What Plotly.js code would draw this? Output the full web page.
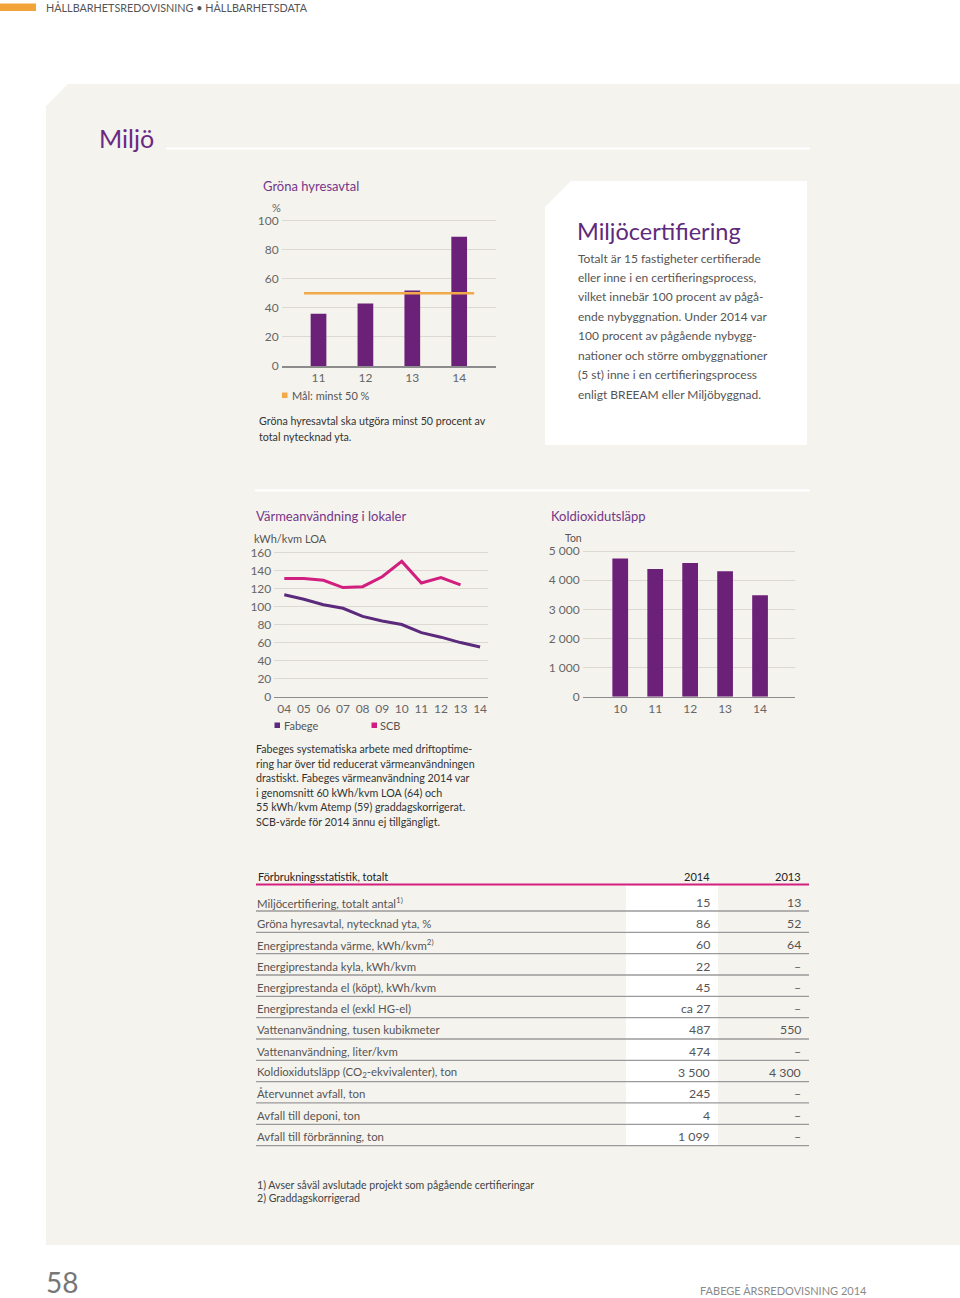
<!DOCTYPE html>
<html>
<head>
<meta charset="utf-8">
<script src="https://cdn.plot.ly/plotly-3.0.1.min.js"></script>
<style>
html,body{margin:0;padding:0;background:#ffffff;}
#page{width:960px;height:1298px;}
</style>
</head>
<body>
<div id="page"></div>
<script>
// ---------- DATA ----------
const greenYears = ['11','12','13','14'];
const greenShare = [36, 43, 52, 89];
const greenGoal = 50;
const greenTicks = [0,20,40,60,80,100];

const heatYears = ['04','05','06','07','08','09','10','11','12','13','14'];
const heatFabege = [113, 108, 102, 98, 89, 84, 80, 71, 66, 60, 55];
const heatSCB = [131, 131, 129, 121, 122, 133, 150, 126, 132, 124, null];
const heatTicks = [0,20,40,60,80,100,120,140,160];

const co2Years = ['10','11','12','13','14'];
const co2Tons = [4740, 4380, 4590, 4310, 3480];
const co2Ticks = [0,1000,2000,3000,4000,5000];
const co2TickText = ['0','1 000','2 000','3 000','4 000','5 000'];

const tableTitle = 'Förbrukningsstatistik, totalt';
const tableCols = ['2014','2013'];
const tableLabels = [
  'Miljöcertifiering, totalt antal<sup>1)</sup>',
  'Gröna hyresavtal, nytecknad yta, %',
  'Energiprestanda värme, kWh/kvm<sup>2)</sup>',
  'Energiprestanda kyla, kWh/kvm',
  'Energiprestanda el (köpt), kWh/kvm',
  'Energiprestanda el (exkl HG-el)',
  'Vattenanvändning, tusen kubikmeter',
  'Vattenanvändning, liter/kvm',
  'Koldioxidutsläpp (CO<sub>2</sub>-ekvivalenter), ton',
  'Återvunnet avfall, ton',
  'Avfall till deponi, ton',
  'Avfall till förbränning, ton'
];
const table2014 = ['15','86','60','22','45','ca 27','487','474','3 500','245','4','1 099'];
const table2013 = ['13','52','64','–','–','–','550','–','4 300','–','–','–'];

// ---------- HELPERS ----------
const W = 960, H = 1298;
const X = p => p / W;
const Y = p => 1 - p / H;
const FONT = 'Lato, "Open Sans", sans-serif';
const PURPLE_T = '#74368a';
const annotations = [];
const shapes = [];
function txt(text, x, y, size, color, anchor, fam) {
  const a = anchor || 'left';
  const dx = a === 'left' ? -2 : (a === 'right' ? 2 : 0);
  annotations.push({text: text, xref: 'paper', yref: 'paper', x: X(x + dx), y: Y(y),
    xanchor: a, yanchor: 'middle', showarrow: false,
    font: {family: fam || FONT, size: size, color: color}});
}
function rect(x0, y0, x1, y1, fill, layer) {
  shapes.push({type: 'rect', xref: 'paper', yref: 'paper', x0: X(x0), x1: X(x1), y0: Y(y1), y1: Y(y0),
    fillcolor: fill, line: {width: 0}, layer: layer || 'below'});
}
function hline(x0, x1, y, color, width, layer) {
  shapes.push({type: 'line', xref: 'paper', yref: 'paper', x0: X(x0), x1: X(x1), y0: Y(y), y1: Y(y),
    line: {color: color, width: width}, layer: layer || 'below'});
}
function poly(pts, fill) {
  let d = pts.map((p, i) => (i ? 'L' : 'M') + X(p[0]) + ',' + Y(p[1])).join(' ') + ' Z';
  shapes.push({type: 'path', xref: 'paper', yref: 'paper', path: d, fillcolor: fill, line: {width: 0}, layer: 'below'});
}

// ---------- PAGE DECOR ----------
poly([[46,106],[68,84],[960,84],[960,1245],[46,1245]], '#f5f3ee');
poly([[545,207],[571,181],[807,181],[807,445],[545,445]], '#ffffff');
hline(166, 810, 148.5, '#ffffff', 2);
hline(255, 810, 490.5, '#ffffff', 2);
rect(0, 3.5, 36, 11, '#f2a33a');

txt('HÅLLBARHETSREDOVISNING • HÅLLBARHETSDATA', 46, 7.5, 10.8, '#555555');
txt('Miljö', 99, 138, 25, '#6b2a82');

// Chart 1 texts
txt('Gröna hyresavtal', 263, 186, 13, PURPLE_T);
txt('%', 276, 207.5, 11, '#666666', 'center');
rect(282, 392.5, 287.5, 398, '#f2a94a');
txt('Mål: minst 50 %', 291.5, 395.5, 11, '#555555');
txt('Gröna hyresavtal ska utgöra minst 50 procent av', 259, 421, 10.7, '#333333');
txt('total nytecknad yta.', 259, 436, 10.7, '#333333');

// Miljöcertifiering box
txt('Miljöcertifiering', 577, 231, 23.5, '#5e2a7c');
const certLines = [
  'Totalt är 15 fastigheter certifierade',
  'eller inne i en certifieringsprocess,',
  'vilket innebär 100 procent av pågå-',
  'ende nybyggnation. Under 2014 var',
  '100 procent av pågående nybygg-',
  'nationer och större ombyggnationer',
  '(5 st) inne i en certifieringsprocess',
  'enligt BREEAM eller Miljöbyggnad.'
];
certLines.forEach((l, i) => txt(l, 578, 258 + i * 19.45, 12, '#555555'));

// Chart 2 texts
txt('Värmeanvändning i lokaler', 256, 516, 13, PURPLE_T);
txt('kWh/kvm LOA', 254, 538.5, 11, '#555555');
rect(274.5, 722.5, 280, 728, '#5b2a7c');
txt('Fabege', 283.5, 725.5, 11, '#555555');
rect(371.5, 722.5, 377, 728, '#d21f7f');
txt('SCB', 379.5, 725.5, 11, '#555555');
const heatCaption = [
  'Fabeges systematiska arbete med driftoptime-',
  'ring har över tid reducerat värmeanvändningen',
  'drastiskt. Fabeges värmeanvändning 2014 var',
  'i genomsnitt 60 kWh/kvm LOA (64) och',
  '55 kWh/kvm Atemp (59) graddagskorrigerat.',
  'SCB-värde för 2014 ännu ej tillgängligt.'
];
heatCaption.forEach((l, i) => txt(l, 256, 748.5 + i * 14.5, 10.7, '#333333'));

// Chart 3 texts
txt('Koldioxidutsläpp', 551, 516, 13, PURPLE_T);
txt('Ton', 573, 537.5, 10.5, '#555555', 'center');

// ---------- TABLE ----------
rect(626, 886, 718, 1146, '#ffffff');
txt(tableTitle, 258, 876.5, 10.8, '#222222');
txt(tableCols[0], 709.5, 876.5, 11, '#222222', 'right');
txt(tableCols[1], 801, 876.5, 11, '#222222', 'right');
hline(256, 809, 884.5, '#d4207f', 2, 'above');
tableLabels.forEach((lab, i) => {
  const yc = 902.3 + i * 21.27;
  txt(lab, 257, yc, 11.4, '#555555');
  txt(table2014[i], 709.5, yc, 12.3, '#555555', 'right');
  txt(table2013[i], 801, yc, 12.3, '#555555', 'right');
  hline(256, 809, 911 + i * 21.33, '#9a9a9a', 1.3, 'above');
});

// footnotes & folio
txt('1) Avser såväl avslutade projekt som pågående certifieringar', 257, 1184.5, 10.6, '#444444');
txt('2) Graddagskorrigerad', 257, 1197.5, 10.6, '#444444');
txt('58', 46, 1281.5, 28, '#777777');
txt('FABEGE ÅRSREDOVISNING 2014', 867, 1290.5, 11, '#8a8a8a', 'right');

// ---------- TRACES ----------
const traces = [
  {type: 'bar', x: greenYears, y: greenShare, xaxis: 'x', yaxis: 'y',
   marker: {color: '#6c2178'}, width: 0.335, hoverinfo: 'skip'},
  {type: 'scatter', mode: 'lines', x: heatYears, y: heatFabege, xaxis: 'x2', yaxis: 'y2',
   line: {color: '#5b2a7c', width: 3}, hoverinfo: 'skip'},
  {type: 'scatter', mode: 'lines', x: heatYears, y: heatSCB, xaxis: 'x2', yaxis: 'y2',
   line: {color: '#d21f7f', width: 3}, connectgaps: false, hoverinfo: 'skip'},
  {type: 'bar', x: co2Years, y: co2Tons, xaxis: 'x3', yaxis: 'y3',
   marker: {color: '#6c2178'}, width: 0.45, hoverinfo: 'skip'}
];

// goal line in chart 1
shapes.push({type: 'line', xref: 'x', yref: 'y', x0: -0.31, x1: 3.32, y0: greenGoal, y1: greenGoal,
  line: {color: '#f2a94a', width: 2.5}, layer: 'above'});

const tickFont = {family: FONT, size: 12, color: '#666666'};
const GRID = '#dcd9d2';
const AXL = '#8c8c8c';
function xAx(domPx, range, anchor) {
  return {domain: [X(domPx[0]), X(domPx[1])], range: range, type: 'category', anchor: anchor,
    showgrid: false, showline: true, linecolor: AXL, linewidth: 1.5, ticks: '', tickfont: tickFont,
    zeroline: false, fixedrange: true};
}
function yAx(pxBottom, pxPerUnit, max, tickvals, ticktext, anchor) {
  const top = pxBottom - max * pxPerUnit;
  return {domain: [Y(pxBottom), Y(top)], range: [0, max], anchor: anchor,
    tickvals: tickvals, ticktext: ticktext, showgrid: true, gridcolor: GRID, gridwidth: 1,
    showline: false, zeroline: false, ticks: '', tickfont: tickFont, ticklabelstandoff: 2, fixedrange: true};
}

const layout = {
  width: W, height: H, margin: {l: 0, r: 0, t: 0, b: 0},
  paper_bgcolor: '#ffffff', plot_bgcolor: 'rgba(0,0,0,0)', showlegend: false,
  font: {family: FONT},
  xaxis: xAx([281.7, 496], [-0.785, 3.785], 'y'),
  yaxis: yAx(366, 1.453, 101, greenTicks, greenTicks.map(String), 'x'),
  xaxis2: xAx([274.3, 488.3], [-0.51, 10.42], 'y2'),
  yaxis2: yAx(696.7, 0.902, 162, heatTicks, heatTicks.map(String), 'x2'),
  xaxis3: xAx([582.7, 795], [-1.074, 5.0], 'y3'),
  yaxis3: yAx(696.7, 0.02913, 5050, co2Ticks, co2TickText, 'x3'),
  shapes: shapes,
  annotations: annotations
};

Plotly.newPlot('page', traces, layout, {displayModeBar: false, staticPlot: true});
</script>
</body>
</html>
